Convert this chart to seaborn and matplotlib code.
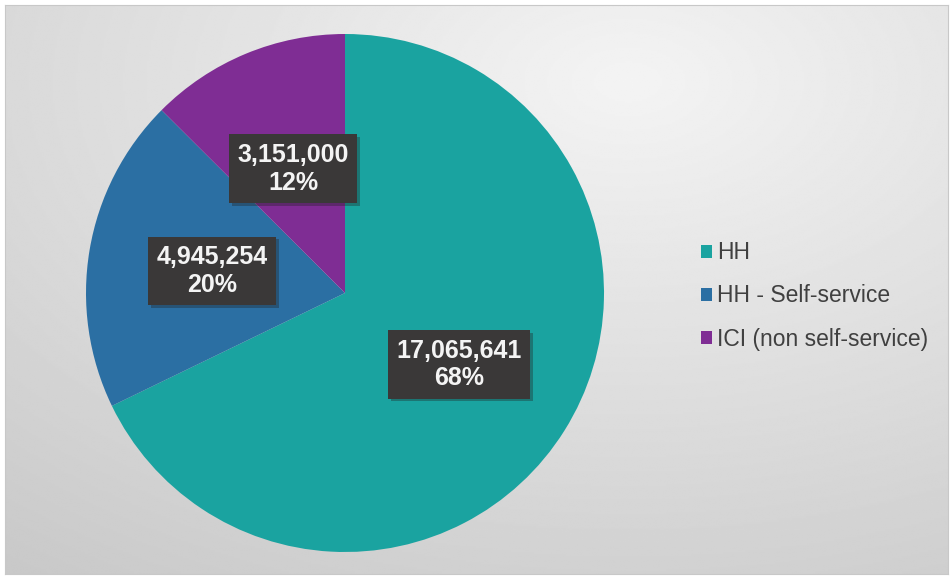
import numpy as np
import matplotlib
matplotlib.use("Agg")
import matplotlib.pyplot as plt
import matplotlib.patheffects as pe
import seaborn as sns

# data
categories = ["HH", "HH - Self-service", "ICI (non self-service)"]
values = [17065641, 4945254, 3151000]
pct_labels = ["68%", "20%", "12%"]
colors = ["#1AA3A0", "#2B6FA3", "#7F2D94"]

sns.set_theme(style="white")
plt.rcParams["font.family"] = ["Liberation Sans", "DejaVu Sans"]

W, H = 953, 579
fig = plt.figure(figsize=(W / 100, H / 100), dpi=100)
fig.patch.set_facecolor("white")

# radial gray gradient background (chart area)
bg = fig.add_axes([5 / W, 5 / H, 943 / W, 569 / H])
yy, xx = np.mgrid[0:300, 0:500]
cx, cy = 330, 40
d = np.sqrt(((xx - cx) / 500) ** 2 + ((yy - cy) / 300) ** 2)
d = d / d.max()
shade = 0.955 - 0.17 * d
bg.imshow(shade, cmap="gray", vmin=0, vmax=1, aspect="auto", interpolation="bilinear")
for s in bg.spines.values():
    s.set_visible(True)
    s.set_color("#c8c8c8")
    s.set_linewidth(0.8)
bg.set_xticks([])
bg.set_yticks([])

# pie axes
R = 259
cxp, cyp = 345, 293
ax = fig.add_axes([(cxp - R) / W, (H - cyp - R) / H, 2 * R / W, 2 * R / H])

lab_iter = iter(zip(values, pct_labels))


def fmt(pct):
    v, p = next(lab_iter)
    return "{:,}\n{}".format(v, p)


wedges, texts, autotexts = ax.pie(
    values, colors=colors, startangle=90, counterclock=False,
    autopct=fmt, pctdistance=0.52, radius=1.0,
    wedgeprops=dict(linewidth=0),
    textprops=dict(color="#f4f4f4", fontsize=18, fontweight="bold", linespacing=1.2),
)
ax.set_xlim(-1, 1)
ax.set_ylim(-1, 1)
ax.set_aspect("equal")
ax.set_axis_off()

for t in autotexts:
    t.set_bbox(dict(boxstyle="square,pad=0.33", facecolor="#3A3838", edgecolor="none"))
    t.get_bbox_patch().set_path_effects(
        [pe.SimplePatchShadow(offset=(2, -2), shadow_rgbFace="#202020", alpha=0.35), pe.Normal()]
    )

fig.legend(
    wedges, categories, loc="center left", bbox_to_anchor=(680 / W, 1 - 296 / H),
    frameon=False, fontsize=16.5, handlelength=0.5, handleheight=0.5,
    handletextpad=0.2, labelspacing=0.88, labelcolor="#404040",
)

fig.savefig("out.png", dpi=100)
